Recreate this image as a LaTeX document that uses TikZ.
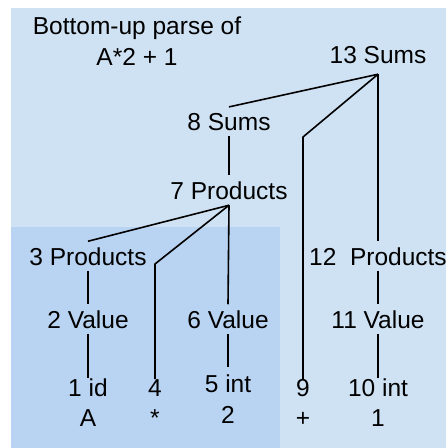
\documentclass[tikz,border=0pt]{standalone}
\usepackage{fontspec}
\setmainfont{Liberation Sans}
\definecolor{paneblue}{RGB}{207,226,243}
\definecolor{leftblue}{RGB}{185,211,242}

\begin{document}
\begin{tikzpicture}[x=1pt, y=-1pt, line width=1.6pt, line join=round,
    lbl/.style={inner sep=0pt, outer ysep=6pt, anchor=base, font=\fontsize{24.5}{31}\selectfont},
    leaf/.style={lbl, outer ysep=0pt}]
    \useasboundingbox (0,0) rectangle (446,448);
    \fill[paneblue] (11,8) rectangle (446,448);
    \fill[leftblue] (11,227) rectangle (280,448);
    % title
    \node[leaf, anchor=north, align=center] (title) at (137,17) {Bottom-up parse of\\A*2 + 1};
    % inner nodes
    \node[lbl, outer ysep=11pt] (s13) at (378,63) {13 Sums};
    \node[lbl] (s8) at (229,130) {8 Sums};
    \node[lbl] (p7) at (229,199) {7 Products};
    \node[lbl] (p3) at (88,265) {3 Products};
    \node[lbl] (p12) at (378,265) {12\ \ Products};
    \node[lbl] (v2) at (88,328) {2 Value};
    \node[lbl] (v6) at (228,328) {6 Value};
    \node[lbl] (v11) at (378,328) {11 Value};
    % leaves
    \node[leaf] (i1) at (88,396) {1 id};
    \node[leaf] (n4) at (155,396) {4};
    \node[leaf, outer ysep=7pt] (i5) at (228,392) {5 int};
    \node[leaf] (n9) at (303,396) {9};
    \node[leaf] (i10) at (378,396) {10 int};
    \node[leaf] (tA) at (88,426) {A};
    \node[leaf] (tstar) at (155,426) {*};
    \node[leaf] (t2) at (228,423) {2};
    \node[leaf] (tplus) at (303,426) {+};
    \node[leaf] (t1) at (378,426) {1};
    % bends
    \coordinate (b9) at (303,137);
    \coordinate (b4) at (155,264);
    % connectors
    \draw (s13.south) -- (s8.north);
    \draw (s13.south) -- (b9) -- (n9.north);
    \draw (s13.south) -- (p12.north);
    \draw (s8.south) -- (p7.north);
    \draw (p7.south) -- (p3.north);
    \draw (p7.south) -- (b4) -- (n4.north);
    \draw (p7.south) -- (v6.north);
    \draw (p3.south) -- (v2.north);
    \draw (v2.south) -- (i1.north);
    \draw (v6.south) -- (i5.north);
    \draw (p12.south) -- (v11.north);
    \draw (v11.south) -- (i10.north);
\end{tikzpicture}
\end{document}
